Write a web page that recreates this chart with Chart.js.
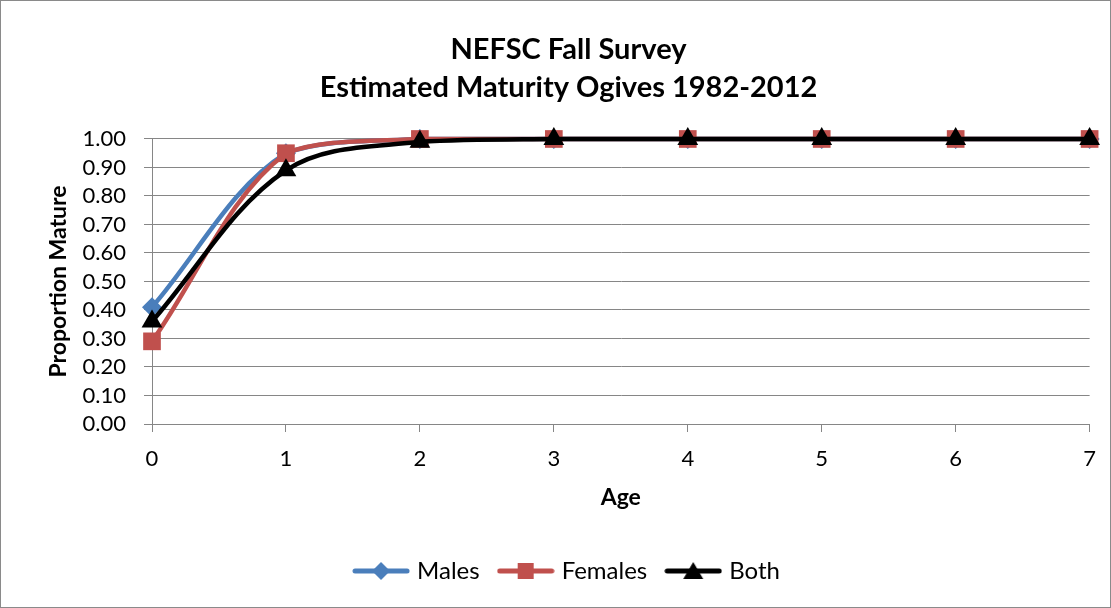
<!DOCTYPE html>
<html>
<head>
<meta charset="utf-8">
<script src="https://cdn.jsdelivr.net/npm/chart.js@4"></script>
<style>
  body { margin: 0; background: #fff; }
  #wrap { width: 1111px; height: 608px; box-sizing: border-box; border: 1px solid #8a8a8a; }
</style>
</head>
<body>
<div id="wrap"><canvas id="chartCanvas" width="1109" height="606"></canvas></div>
<script>
// --- data ---
const ages = [0, 1, 2, 3, 4, 5, 6, 7];
const males = [0.41, 0.95, 1.00, 1.00, 1.00, 1.00, 1.00, 1.00];
const females = [0.29, 0.95, 1.00, 1.00, 1.00, 1.00, 1.00, 1.00];
const both = [0.36, 0.89, 0.99, 1.00, 1.00, 1.00, 1.00, 1.00];

const seriesNames = ["Males", "Females", "Both"];
const seriesColors = ["#4a7ebb", "#c0504d", "#000000"];
const seriesMarkers = ["rectRot", "rect", "triangle"];
const markerRadius = [10, 12.5, 12];

const FONT = "Lato, Carlito, 'Liberation Sans', sans-serif";

// legend swatch: line with marker in the middle, like Excel
function legendSwatch(color, marker) {
  const c = document.createElement("canvas");
  c.width = 58; c.height = 24;
  const g = c.getContext("2d");
  g.strokeStyle = color; g.fillStyle = color;
  g.lineWidth = 5; g.lineCap = "round";
  g.beginPath(); g.moveTo(3, 12); g.lineTo(55, 12); g.stroke();
  g.beginPath();
  if (marker === "rectRot") {
    g.moveTo(29, 3); g.lineTo(38, 12); g.lineTo(29, 21); g.lineTo(20, 12);
  } else if (marker === "rect") {
    g.rect(21, 4, 16, 16);
  } else {
    g.moveTo(29, 3); g.lineTo(39, 20); g.lineTo(19, 20);
  }
  g.closePath(); g.fill();
  return c;
}

const allValues = [males, females, both];
const datasets = seriesNames.map((name, i) => ({
  label: name,
  data: ages.map((a, j) => ({ x: a, y: allValues[i][j] })),
  borderColor: seriesColors[i],
  backgroundColor: seriesColors[i],
  borderWidth: 4.5,
  pointStyle: seriesMarkers[i],
  pointRadius: markerRadius[i],
  pointBorderWidth: 0,
  tension: 0.35,
  clip: false,
  order: 3 - i
}));

new Chart(document.getElementById("chartCanvas"), {
  type: "line",
  data: { datasets },
  options: {
    responsive: false,
    animation: false,
    layout: { padding: { left: 40, right: 14, top: 0, bottom: 14 } },
    plugins: {
      title: {
        display: true,
        text: ["NEFSC Fall Survey", "Estimated Maturity Ogives 1982-2012"],
        color: "#000",
        font: { family: FONT, size: 29, weight: "bold", lineHeight: 1.31 },
        padding: { top: 30, bottom: 32 }
      },
      legend: {
        position: "bottom",
        labels: {
          color: "#000",
          font: { family: FONT, size: 24 },
          usePointStyle: true,
          pointStyleWidth: 48,
          padding: 22,
          generateLabels: () => seriesNames.map((n, i) => ({
            text: n,
            fillStyle: seriesColors[i],
            strokeStyle: seriesColors[i],
            pointStyle: legendSwatch(seriesColors[i], seriesMarkers[i]),
            datasetIndex: i
          }))
        }
      },
      tooltip: { enabled: false }
    },
    scales: {
      x: {
        type: "linear",
        min: 0, max: 7,
        ticks: { stepSize: 1, autoSkip: false, color: "#000", font: { family: FONT, size: 22 }, padding: 14 },
        grid: { drawOnChartArea: false, color: "#868686", tickLength: 8 },
        border: { color: "#868686", width: 1 },
        title: { display: true, text: "Age", color: "#000", font: { family: FONT, size: 23, weight: "bold" }, padding: { top: 4, bottom: 26 } },
        afterFit: s => { s.height = 113; }
      },
      y: {
        min: 0, max: 1,
        ticks: { stepSize: 0.1, autoSkip: false, color: "#000", font: { family: FONT, size: 22 }, padding: 18,
                 callback: v => v.toFixed(2) },
        grid: { color: "#868686", tickLength: 8 },
        border: { color: "#868686", width: 1 },
        title: { display: true, text: "Proportion Mature", color: "#000", font: { family: FONT, size: 23, weight: "bold" }, padding: { top: 4, bottom: 4 } },
        afterFit: s => { s.width = 111; }
      }
    }
  }
});
</script>
</body>
</html>
